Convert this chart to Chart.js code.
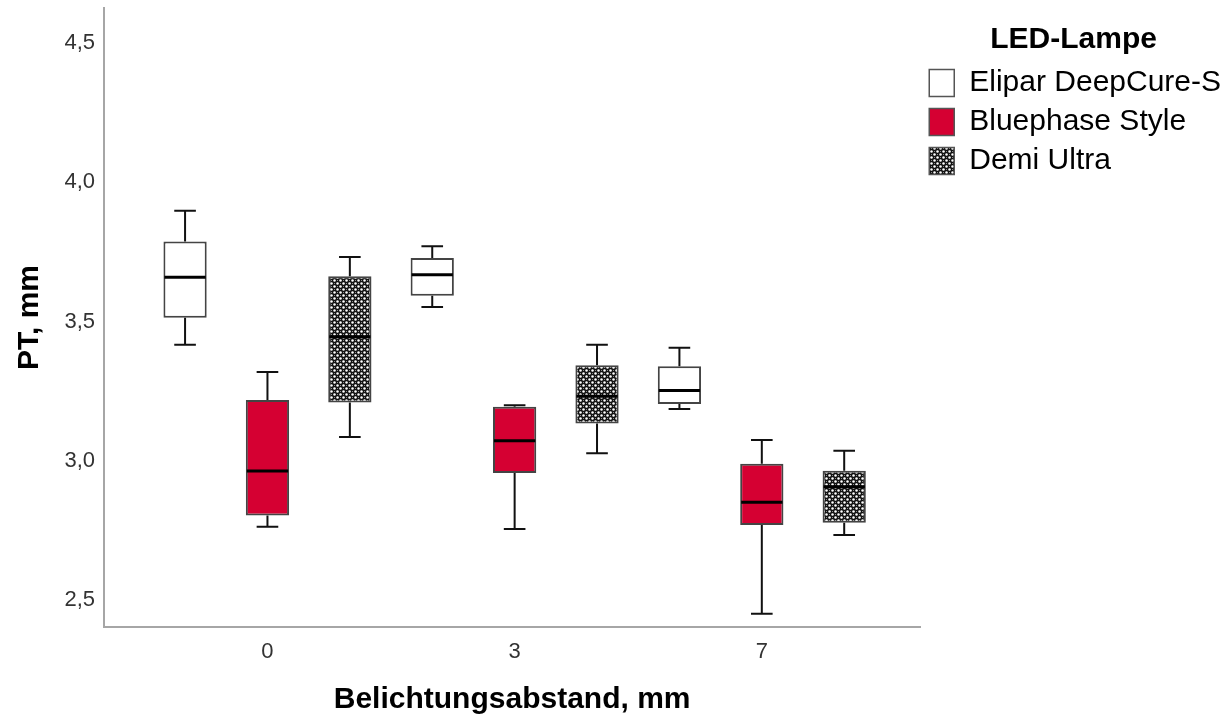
<!DOCTYPE html>
<html>
<head>
<meta charset="utf-8">
<script src="https://cdn.jsdelivr.net/npm/chart.js@4"></script>
<style>
  html, body { margin: 0; padding: 0; background: #ffffff; }
  #wrap { width: 1229px; height: 719px; position: relative; }
</style>
</head>
<body>
<div id="wrap"><canvas id="c"></canvas></div>
<script>
// ---- data ----
const categories = ['0', '3', '7'];
const seriesNames = ['Elipar DeepCure-S', 'Bluephase Style', 'Demi Ultra'];
const yTicks = [2.5, 3.0, 3.5, 4.0, 4.5];

const eliparMin    = [3.417, 3.552, 3.186];
const eliparQ1     = [3.514, 3.593, 3.204];
const eliparMedian = [3.659, 3.668, 3.252];
const eliparQ3     = [3.787, 3.728, 3.339];
const eliparMax    = [3.898, 3.770, 3.406];

const blueMin    = [2.763, 2.755, 2.451];
const blueQ1     = [2.803, 2.956, 2.769];
const blueMedian = [2.963, 3.072, 2.851];
const blueQ3     = [3.218, 3.194, 2.989];
const blueMax    = [3.319, 3.199, 3.075];

const demiMin    = [3.085, 3.027, 2.733];
const demiQ1     = [3.209, 3.134, 2.777];
const demiMedian = [3.445, 3.232, 2.907];
const demiQ3     = [3.663, 3.343, 2.964];
const demiMax    = [3.732, 3.417, 3.036];

const stats = [
  { min: eliparMin, q1: eliparQ1, med: eliparMedian, q3: eliparQ3, max: eliparMax },
  { min: blueMin,   q1: blueQ1,   med: blueMedian,   q3: blueQ3,   max: blueMax },
  { min: demiMin,   q1: demiQ1,   med: demiMedian,   q3: demiQ3,   max: demiMax }
];

// ---- styles ----
function makePattern() {
  const t = document.createElement('canvas');
  t.width = 6; t.height = 6;
  const g = t.getContext('2d');
  g.fillStyle = '#111111';
  g.fillRect(0, 0, 6, 6);
  g.fillStyle = '#ffffff';
  g.beginPath(); g.arc(1.5, 1.5, 1.25, 0, Math.PI * 2); g.fill();
  g.beginPath(); g.arc(4.5, 4.5, 1.25, 0, Math.PI * 2); g.fill();
  g.fillStyle = '#8a8a8a';
  g.fillRect(4, 1, 1, 1); g.fillRect(1, 4, 1, 1);
  return document.createElement('canvas').getContext('2d').createPattern(t, 'repeat');
}
const fills = ['#ffffff', '#d50032', makePattern()];
const FONT = "'Liberation Sans', Arial, sans-serif";
Chart.defaults.font.family = FONT;

const datasets = stats.map((s, i) => ({
  label: seriesNames[i],
  data: categories.map((c, j) => ({ x: j, y: [s.q1[j], s.q3[j]] })),
  backgroundColor: fills[i],
  borderColor: '#444444',
  borderWidth: 2,
  borderSkipped: false,
  categoryPercentage: 1.0,
  barPercentage: 0.525
}));

const whiskerPlugin = {
  id: 'whiskers',
  afterDatasetsDraw(chart) {
    const ctx = chart.ctx;
    const ys = chart.scales.y;
    stats.forEach((s, i) => {
      const meta = chart.getDatasetMeta(i);
      meta.data.forEach((bar, j) => {
        const x = bar.x, w = bar.width;
        const pMin = ys.getPixelForValue(s.min[j]);
        const pQ1 = ys.getPixelForValue(s.q1[j]);
        const pMed = ys.getPixelForValue(s.med[j]);
        const pQ3 = ys.getPixelForValue(s.q3[j]);
        const pMax = ys.getPixelForValue(s.max[j]);
        ctx.save();
        ctx.strokeStyle = '#111111';
        ctx.lineWidth = 2;
        ctx.beginPath();
        ctx.moveTo(x, pQ3); ctx.lineTo(x, pMax);
        ctx.moveTo(x - w / 4, pMax); ctx.lineTo(x + w / 4, pMax);
        ctx.moveTo(x, pQ1); ctx.lineTo(x, pMin);
        ctx.moveTo(x - w / 4, pMin); ctx.lineTo(x + w / 4, pMin);
        ctx.stroke();
        ctx.lineWidth = 3;
        ctx.strokeStyle = '#000000';
        ctx.beginPath();
        ctx.moveTo(x - w / 2 + 1, pMed); ctx.lineTo(x + w / 2 - 1, pMed);
        ctx.stroke();
        ctx.restore();
      });
    });
  }
};

new Chart(document.getElementById('c'), {
  type: 'bar',
  data: { datasets },
  plugins: [whiskerPlugin],
  options: {
    responsive: true,
    maintainAspectRatio: false,
    animation: false,
    layout: { padding: { top: 8, left: 0, right: 2, bottom: 0 } },
    plugins: {
      tooltip: { enabled: false },
      legend: {
        position: 'right',
        align: 'start',
        title: {
          display: true,
          text: 'LED-Lampe',
          color: '#000000',
          font: { size: 30, weight: 'bold', family: FONT },
          padding: { top: 17, bottom: -2 }
        },
        labels: {
          boxWidth: 25,
          boxHeight: 27,
          padding: 9,
          color: '#000000',
          font: { size: 30, family: FONT },
          generateLabels: (chart) => chart.data.datasets.map((d, i) => ({
            text: d.label,
            fillStyle: d.backgroundColor,
            strokeStyle: '#555555',
            lineWidth: 1.5,
            hidden: false,
            datasetIndex: i
          }))
        }
      }
    },
    scales: {
      x: {
        type: 'linear',
        offset: false,
        min: -0.6613,
        max: 2.641,
        grid: { display: false, drawTicks: false, offset: false },
        border: { display: true, color: '#a6a6a6', width: 2 },
        afterBuildTicks: (scale) => { scale.ticks = categories.map((c, j) => ({ value: j })); },
        afterFit: (scale) => { scale.height = 92; scale.paddingLeft = 0; scale.paddingRight = 0; },
        ticks: {
          autoSkip: false,
          padding: 12,
          color: '#333333',
          font: { size: 22, family: FONT },
          callback: (v) => categories[v] !== undefined ? categories[v] : ''
        },
        title: {
          display: true,
          text: 'Belichtungsabstand, mm',
          color: '#000000',
          font: { size: 30, weight: 'bold', family: FONT },
          padding: { top: 0, bottom: 1 }
        }
      },
      y: {
        min: 2.403,
        max: 4.626,
        grid: { display: false, drawTicks: false },
        border: { display: true, color: '#a6a6a6', width: 2 },
        afterBuildTicks: (scale) => { scale.ticks = yTicks.map(v => ({ value: v })); },
        afterFit: (scale) => { scale.width = 104; scale.paddingTop = 0; scale.paddingBottom = 0; },
        ticks: {
          padding: 9,
          color: '#333333',
          font: { size: 22, family: FONT },
          callback: (v) => Number(v).toFixed(1).replace('.', ',')
        },
        title: {
          display: true,
          text: 'PT, mm',
          color: '#000000',
          font: { size: 30, weight: 'bold', family: FONT },
          padding: { top: 12, bottom: 0 }
        }
      }
    }
  }
});
</script>
</body>
</html>
